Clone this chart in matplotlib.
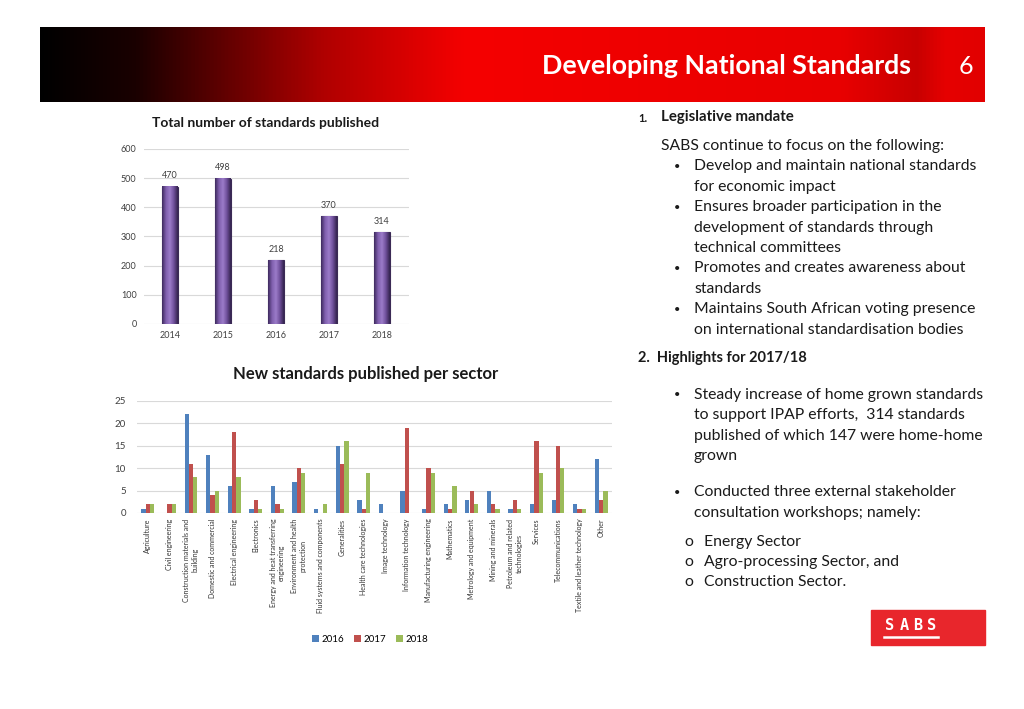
import matplotlib
matplotlib.use("Agg")
import matplotlib.pyplot as plt
import numpy as np
from matplotlib.colors import LinearSegmentedColormap
from matplotlib.patches import Rectangle

plt.rcParams['font.family'] = ['Lato', 'DejaVu Sans']

years = ["2014", "2015", "2016", "2017", "2018"]
totals = [470, 498, 218, 370, 314]

sectors = ["Agriculture", "Civil engineering", "Construction materials and\nbuilding",
           "Domestic and commercial", "Electrical engineering", "Electronics",
           "Energy and heat transferring\nengineering", "Environment and health\nprotection",
           "Fluid systems and components", "Generalities", "Health care technologies",
           "Image technology", "Information technology", "Manufacturing engineering",
           "Mathematics", "Metrology and equipment", "Mining and minerals",
           "Petroleum and related\ntechnologies", "Services", "Telecommunications",
           "Textile and leather technology", "Other"]
s2016 = [1, 0, 22, 13, 6, 1, 6, 7, 1, 15, 3, 2, 5, 1, 2, 3, 5, 1, 2, 3, 2, 12]
s2017 = [2, 2, 11, 4, 18, 3, 2, 10, 0, 11, 1, 0, 19, 10, 1, 5, 2, 3, 16, 15, 1, 3]
s2018 = [2, 2, 8, 5, 8, 1, 1, 9, 2, 16, 9, 0, 0, 9, 6, 2, 1, 1, 9, 10, 1, 5]

W, H = 1024, 709
fig = plt.figure(figsize=(W / 100, H / 100), dpi=100)

def px_axes(x0, y0, x1, y1, **kw):
    return fig.add_axes([x0 / W, 1 - y1 / H, (x1 - x0) / W, (y1 - y0) / H], **kw)

bg = px_axes(0, 0, W, H)
bg.set_xlim(0, W)
bg.set_ylim(H, 0)
bg.axis("off")

# header band with gradient
cmap = LinearSegmentedColormap.from_list("hdr", [(0, "#000000"), (0.1, "#1a0000"),
                                                 (0.3, "#b00000"), (0.45, "#f50000"),
                                                 (0.85, "#e80000"), (0.93, "#c80000"),
                                                 (0.96, "#e60000"), (1, "#e20000")])
grad = np.linspace(0, 1, 512).reshape(1, -1)
bg.imshow(grad, cmap=cmap, extent=[40, 985, 102, 27], aspect="auto", zorder=1)
bg.text(726, 66, "Developing National Standards", color="white", fontsize=19.3,
        fontweight="bold", ha="center", va="center", zorder=2)
bg.text(966, 66, "6", color="white", fontsize=18, ha="center", va="center", zorder=2)

# SABS logo
bg.add_patch(Rectangle((871, 610), 114, 35, color="#e8262c", zorder=1))
for lx, letter in zip([890, 904, 918, 932], "SABS"):
    bg.text(lx, 626, letter, color="white", fontsize=11, fontweight="bold",
            ha="center", va="center", zorder=2, family="DejaVu Sans Mono")
bg.plot([884, 938], [637, 637], color="white", lw=1.8, zorder=2)

# right-hand text
fs = 11.3
tc = "#1a1a1a"
bfs = 8
bg.text(638, 118, "1.", fontsize=8, fontweight="bold", va="center", color=tc)
bg.text(661, 117, "Legislative mandate", fontsize=10.8, fontweight="bold", va="center",
        color=tc)
lines1 = [("", "SABS continue to focus on the following:"),
          ("•", "Develop and maintain national standards"),
          ("", "for economic impact"),
          ("•", "Ensures broader participation in the"),
          ("", "development of standards through"),
          ("", "technical committees"),
          ("•", "Promotes and creates awareness about"),
          ("", "standards"),
          ("•", "Maintains South African voting presence"),
          ("", "on international standardisation bodies")]
for i, (b, t) in enumerate(lines1):
    y = 146 + i * 20.4
    if i == 0:
        bg.text(661, y, t, fontsize=fs, va="center", color=tc)
    else:
        if b:
            bg.text(674, y, b, fontsize=bfs, va="center", color=tc)
        bg.text(694, y, t, fontsize=fs, va="center", color=tc)

bg.text(638, 358, "2.  Highlights for 2017/18", fontsize=10.5, fontweight="bold",
        va="center", color=tc)
lines2 = [(395, "•", "Steady increase of home grown standards"),
          (415, "", "to support IPAP efforts,  314 standards"),
          (436, "", "published of which 147 were home-home"),
          (456, "", "grown"),
          (492, "•", "Conducted three external stakeholder"),
          (513, "", "consultation workshops; namely:")]
for y, b, t in lines2:
    if b:
        bg.text(674, y, b, fontsize=bfs, va="center", color=tc)
    bg.text(694, y, t, fontsize=fs, va="center", color=tc)
for y, t in [(542, "Energy Sector"), (562, "Agro-processing Sector, and"),
             (582, "Construction Sector.")]:
    bg.text(684, y, "o", fontsize=fs, va="center", color=tc)
    bg.text(704, y, t, fontsize=fs, va="center", color=tc)

# chart titles
bg.text(266, 123, "Total number of standards published", fontsize=10, fontweight="bold",
        ha="center", va="center", color=tc)
bg.text(366, 374, "New standards published per sector", fontsize=12, fontweight="bold",
        ha="center", va="center", color=tc)

# top chart
ax1 = px_axes(143.5, 149, 408.5, 324)
x1 = np.arange(len(years))
bars = ax1.bar(x1, totals, width=0.3, color="#7d5ba6", edgecolor="#3b2a55",
               linewidth=0.8, zorder=3)
bar_cmap = LinearSegmentedColormap.from_list("cyl", ["#3e2a5e", "#7f5fae", "#9c7cc9",
                                                     "#6f4f9a", "#34244f"])
for b in bars:
    bx, bw, bh = b.get_x(), b.get_width(), b.get_height()
    ax1.imshow(np.linspace(0, 1, 64).reshape(1, -1), cmap=bar_cmap, aspect="auto",
               extent=[bx, bx + bw, 0, bh], zorder=4)
    ax1.text(bx + bw / 2, bh + 22, str(int(bh)), ha="center", va="bottom",
             fontsize=6.5, color="#404040")
ax1.set_xlim(-0.5, 4.5)
ax1.set_ylim(0, 600)
ax1.set_yticks(range(0, 601, 100))
ax1.set_xticks(x1)
ax1.set_xticklabels(years)
ax1.grid(axis="y", color="#d9d9d9", lw=0.8, zorder=0)
for s in ax1.spines.values():
    s.set_visible(False)
ax1.tick_params(length=0, labelsize=6.5, colors="#404040", pad=5)
ax1.set_aspect("auto")

# bottom chart
ax2 = px_axes(137, 401, 612, 513)
x2 = np.arange(len(sectors))
bw = 0.2
ax2.bar(x2 - bw, s2016, bw, color="#4f81bd", label="2016", zorder=3)
ax2.bar(x2, s2017, bw, color="#c0504d", label="2017", zorder=3)
ax2.bar(x2 + bw, s2018, bw, color="#9bbb59", label="2018", zorder=3)
ax2.set_xlim(-0.5, len(sectors) - 0.5)
ax2.set_ylim(0, 25)
ax2.set_yticks(range(0, 26, 5))
ax2.set_xticks(x2)
ax2.set_xticklabels(sectors, rotation=90, fontsize=5, ha="center", va="top",
                    multialignment="center")
ax2.grid(axis="y", color="#d9d9d9", lw=0.8, zorder=0)
for s in ax2.spines.values():
    s.set_visible(False)
ax2.tick_params(axis="y", length=0, labelsize=7, colors="#404040", pad=8)
ax2.tick_params(axis="x", length=0, colors="#333333", pad=4)
fig.legend(loc="center", bbox_to_anchor=(370 / W, 1 - 639 / H), ncol=3, frameon=False,
           fontsize=7, handlelength=0.7, handleheight=0.7, handletextpad=0.3,
           columnspacing=1.0)

fig.savefig("out.png", dpi=100)
